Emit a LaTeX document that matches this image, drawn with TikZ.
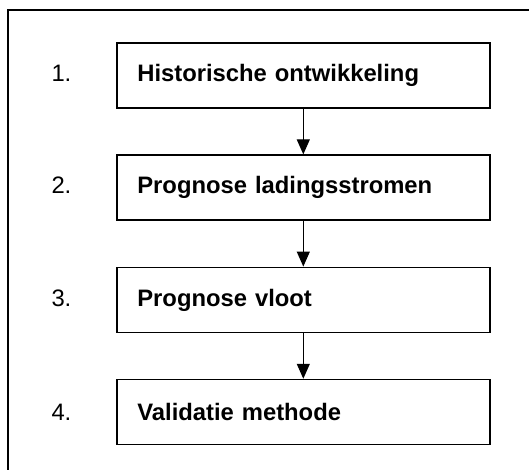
\documentclass[tikz,border=0pt]{standalone}
\usepackage{fontspec}
\setmainfont{Liberation Sans}
\usetikzlibrary{positioning, arrows.meta}

\begin{document}
\begin{tikzpicture}[
  node distance=45.5pt,
  >={Triangle[length=15pt, width=13pt]},
  every node/.style={font=\fontsize{23.8}{28}\selectfont}
]
\tikzset{
  stap/.style  ={draw=black, line width=1.7pt, align=left,
                 text width=331.9pt, inner xsep=20.7pt, inner ysep=2pt,
                 minimum height=65pt,
                 font=\fontsize{23.8}{28}\selectfont\bfseries},
  num/.style   ={inner sep=0pt},
  arr/.style   ={->, line width=1.2pt},
  frame/.style ={draw=black, line width=2pt}
}

%% ----- Canvas and outer frame (cut off right and bottom) -----
\clip (0,0) rectangle (529pt,-470pt);
\draw[frame] (8pt,-10pt) rectangle (560pt,-500pt);

%% ----- Steps -----
\node[stap] (hist) at (303.3pt,-75.5pt) {Historische ontwikkeling};
\node[stap, below=of hist]   (lading) {Prognose ladingsstromen};
\node[stap, below=of lading] (vloot)  {Prognose vloot};
\node[stap, below=of vloot]  (valid)  {Validatie methode};

%% ----- Numbers left of the steps -----
\foreach \s/\n in {hist/1, lading/2, vloot/3, valid/4}
  \node[num, anchor=base west] (n\n) at ([xshift=-64.5pt]\s.base west) {\n.};

%% ----- Arrows -----
\draw[arr] (hist)   -- (lading);
\draw[arr] (lading) -- (vloot);
\draw[arr] (vloot)  -- (valid);

\end{tikzpicture}
\end{document}
